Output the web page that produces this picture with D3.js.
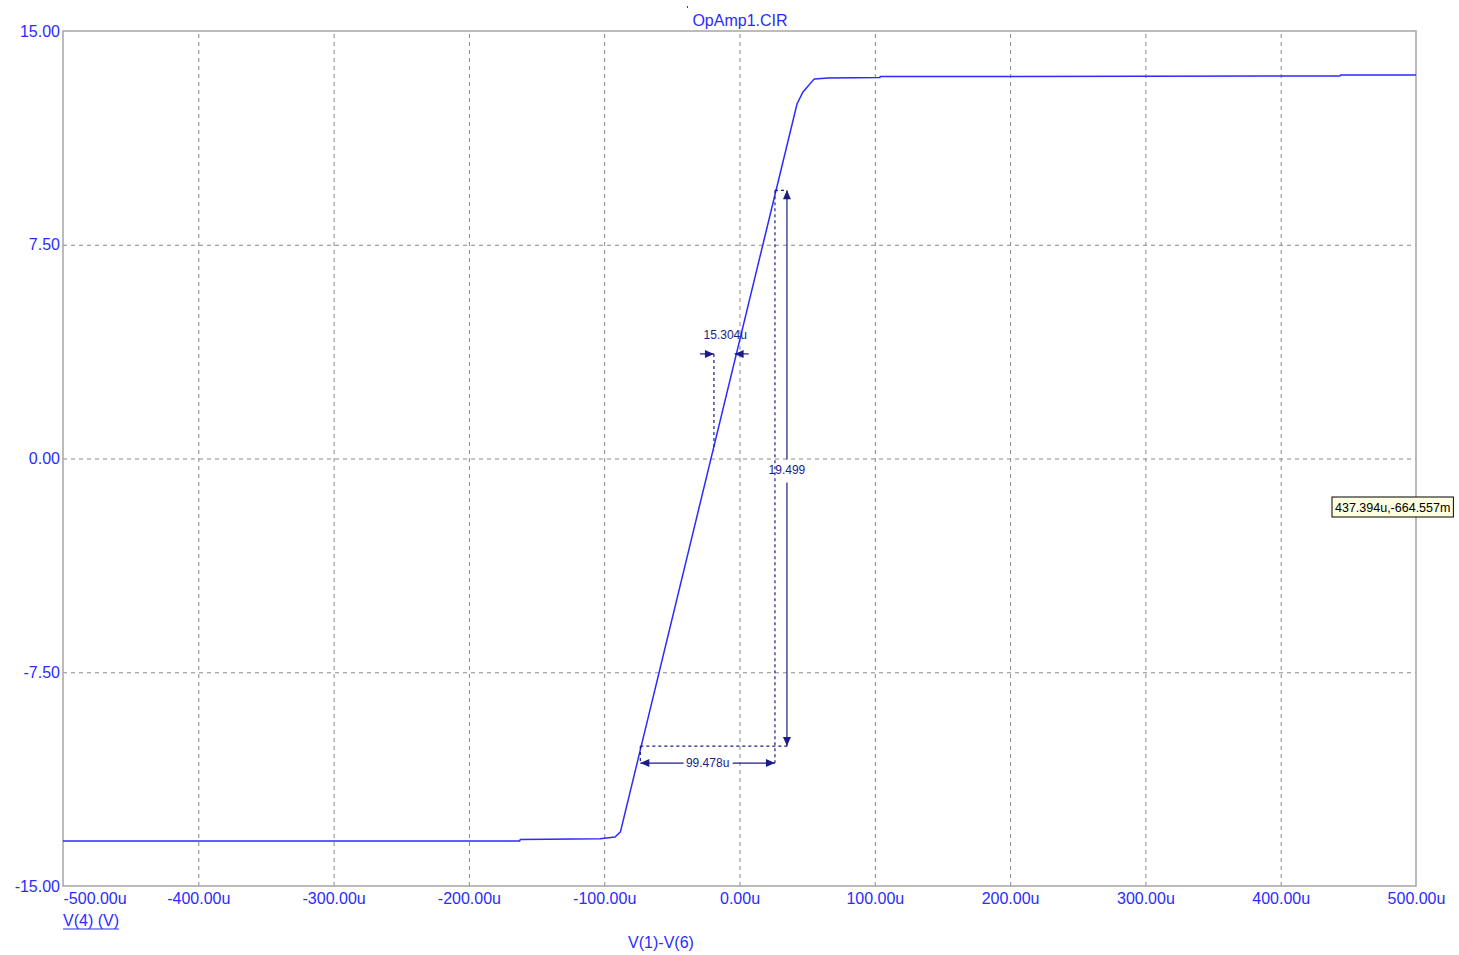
<!DOCTYPE html>
<html>
<head>
<meta charset="utf-8">
<script src="https://cdn.jsdelivr.net/npm/d3@7"></script>
<style>
  body { margin:0; background:#ffffff; }
  svg text { font-family: "Liberation Sans", Arial, sans-serif; }
</style>
</head>
<body>
<svg></svg>
<script>
// sweep data, x in micro volts, y in volts
var sweepX = [-500, -162.5, -162, -103, -92, -88, 42.5, 46.9, 55.3, 65.7, 103.8, 104, 443.8, 444.5, 500];
var voutY  = [-13.42, -13.42, -13.37, -13.34, -13.28, -13.1, 12.44, 12.86, 13.32, 13.35, 13.37, 13.40, 13.42, 13.46, 13.46];

var xTicks = [-500, -400, -300, -200, -100, 0, 100, 200, 300, 400, 500];
var xTickLabels = ["-500.00u", "-400.00u", "-300.00u", "-200.00u", "-100.00u", "0.00u", "100.00u", "200.00u", "300.00u", "400.00u", "500.00u"];
var yTicks = [-15, -7.5, 0, 7.5, 15];
var yTickLabels = ["-15.00", "-7.50", "0.00", "7.50", "15.00"];

// cursor measurements (data coords)
var slopeLow = [-73.3, -10.09];
var slopeHigh = [26.2, 9.41];
var zeroCross = [-18.9, 3.67];
var curveAt = [-3.6, 3.67];
var dxLabel = "99.478u";
var dyLabel = "19.499";
var zxLabel = "15.304u";
var tipLabel = "437.394u,-664.557m";

var drawChart = function()
{
  var screen = { width: 1459, height: 955 };
  var svg = d3.select('svg')
              .attr('width', screen.width)
              .attr('height', screen.height);
  var margins = { top: 31, bottom: 69, left: 63, right: 43 };
  var width = screen.width - margins.left - margins.right;
  var height = screen.height - margins.top - margins.bottom;

  var xscale = d3.scaleLinear().domain([-500, 500]).range([0, width]);
  var yscale = d3.scaleLinear().domain([-15, 15]).range([height, 0]);

  var blue = "#2b2bff";
  var navy = "#1c1c86";
  var font = '"Liberation Sans", Arial, sans-serif';

  var plot = svg.append('g')
                .attr("transform", "translate(" + margins.left + "," + margins.top + ")");

  // grid
  var xGrid = d3.axisBottom(xscale).tickValues(xTicks.slice(1, -1)).tickSize(-height).tickFormat("");
  plot.append('g').attr("transform", "translate(0," + height + ")").call(xGrid)
      .call(function(g) { g.select('.domain').remove(); })
      .selectAll('line').attr('stroke', '#8a8a8a').attr('stroke-dasharray', '4,4');
  var yGrid = d3.axisLeft(yscale).tickValues(yTicks.slice(1, -1)).tickSize(-width).tickFormat("");
  plot.append('g').call(yGrid)
      .call(function(g) { g.select('.domain').remove(); })
      .selectAll('line').attr('stroke', '#8a8a8a').attr('stroke-dasharray', '4,4');

  // border
  plot.append('rect')
      .attr('x', 0).attr('y', 0).attr('width', width).attr('height', height)
      .attr('fill', 'none').attr('stroke', '#a5a5a5').attr('stroke-width', 1.5);

  // y tick labels
  var yAxis = d3.axisLeft(yscale).tickValues(yTicks).tickSize(0).tickPadding(3)
                .tickFormat(function(d, i) { return yTickLabels[i]; });
  var ya = plot.append('g').call(yAxis);
  ya.select('.domain').remove();
  ya.selectAll('text').attr('fill', blue).style('font-size', '16px').style('font-family', font);

  // x tick labels
  var xAxis = d3.axisBottom(xscale).tickValues(xTicks).tickSize(0).tickPadding(7)
                .tickFormat(function(d, i) { return xTickLabels[i]; });
  var xa = plot.append('g').attr("transform", "translate(0," + height + ")").call(xAxis);
  xa.select('.domain').remove();
  xa.selectAll('text').attr('fill', blue).style('font-size', '16px').style('font-family', font)
    .attr('text-anchor', function(d, i) { return i == 0 ? 'start' : 'middle'; });

  // curve
  var pts = sweepX.map(function(d, i) { return [d, voutY[i]]; });
  var line = d3.line().x(function(d) { return xscale(d[0]); }).y(function(d) { return yscale(d[1]); });
  plot.append('path').datum(pts).attr('d', line)
      .attr('fill', 'none').attr('stroke', blue).attr('stroke-width', 1.5);

  // measurement marks
  var ann = plot.append('g').attr('stroke', navy).attr('fill', 'none').attr('stroke-width', 1.2);
  var x1 = xscale(slopeLow[0]), y1 = yscale(slopeLow[1]);
  var x2 = xscale(slopeHigh[0]), y2 = yscale(slopeHigh[1]);
  var vx = x2 + 12;
  var hy = y1 + 17;
  var dash = '3,3';
  // dotted extension lines
  ann.append('line').attr('x1', x1).attr('y1', y1).attr('x2', vx + 2).attr('y2', y1).attr('stroke-dasharray', dash);
  ann.append('line').attr('x1', x2).attr('y1', y2).attr('x2', vx).attr('y2', y2).attr('stroke-dasharray', dash);
  ann.append('line').attr('x1', x2).attr('y1', y2).attr('x2', x2).attr('y2', hy).attr('stroke-dasharray', dash);
  ann.append('line').attr('x1', x1).attr('y1', y1).attr('x2', x1).attr('y2', hy).attr('stroke-dasharray', dash);

  var arrow = function(xa, ya, dir)
  {
    var s = 6, w = 4;
    var p;
    if (dir == 'up') p = [[xa, ya], [xa - w, ya + s + 3], [xa + w, ya + s + 3]];
    if (dir == 'down') p = [[xa, ya], [xa - w, ya - s - 3], [xa + w, ya - s - 3]];
    if (dir == 'left') p = [[xa, ya], [xa + s + 3, ya - w], [xa + s + 3, ya + w]];
    if (dir == 'right') p = [[xa, ya], [xa - s - 3, ya - w], [xa - s - 3, ya + w]];
    plot.append('path').attr('d', 'M' + p.join('L') + 'Z').attr('fill', navy);
  };

  // vertical dimension
  var ymid = yscale(0) + 11;
  ann.append('line').attr('x1', vx).attr('y1', y2).attr('x2', vx).attr('y2', ymid - 10);
  ann.append('line').attr('x1', vx).attr('y1', ymid + 13).attr('x2', vx).attr('y2', y1);
  arrow(vx, y2, 'up');
  arrow(vx, y1, 'down');
  plot.append('text').attr('x', vx).attr('y', ymid + 4).attr('text-anchor', 'middle')
      .attr('fill', navy).style('font-size', '12px').text(dyLabel);

  // horizontal dimension
  var xmid = (x1 + x2) / 2;
  ann.append('line').attr('x1', x1).attr('y1', hy).attr('x2', xmid - 24).attr('y2', hy);
  ann.append('line').attr('x1', xmid + 25).attr('y1', hy).attr('x2', x2).attr('y2', hy);
  arrow(x1, hy, 'left');
  arrow(x2, hy, 'right');
  plot.append('text').attr('x', xmid).attr('y', hy + 4).attr('text-anchor', 'middle')
      .attr('fill', navy).style('font-size', '12px').text(dxLabel);

  // zero crossing width
  var zx = xscale(zeroCross[0]), zy = yscale(zeroCross[1]);
  var cx = xscale(curveAt[0]);
  ann.append('line').attr('x1', zx).attr('y1', zy).attr('x2', zx).attr('y2', yscale(0) - 8).attr('stroke-dasharray', dash);
  ann.append('line').attr('x1', zx - 14).attr('y1', zy).attr('x2', zx).attr('y2', zy);
  ann.append('line').attr('x1', cx).attr('y1', zy).attr('x2', cx + 14).attr('y2', zy);
  arrow(zx, zy, 'right');
  arrow(cx, zy, 'left');
  plot.append('text').attr('x', (zx + cx) / 2 + 1).attr('y', zy - 15).attr('text-anchor', 'middle')
      .attr('fill', navy).style('font-size', '12px').text(zxLabel);

  // title
  svg.append('text').attr('x', 740).attr('y', 26).attr('text-anchor', 'middle')
     .attr('fill', blue).style('font-size', '16px').text("OpAmp1.CIR");
  svg.append('rect').attr('x', 687).attr('y', 6).attr('width', 1).attr('height', 2).attr('fill', blue);

  // axis titles
  var yt = svg.append('text').attr('x', margins.left).attr('y', 926)
     .attr('fill', blue).style('font-size', '16px').text("V(4) (V)");
  var bb = yt.node().getBBox();
  svg.append('line').attr('x1', bb.x).attr('x2', bb.x + bb.width).attr('y1', 929).attr('y2', 929)
     .attr('stroke', blue).attr('stroke-width', 1);
  svg.append('text').attr('x', 661).attr('y', 948).attr('text-anchor', 'middle')
     .attr('fill', blue).style('font-size', '16px').text("V(1)-V(6)");

  // cursor tip
  var tip = svg.append('g').attr('transform', 'translate(1332,497)');
  var tipRect = tip.append('rect').attr('height', 20).attr('fill', '#ffffe1').attr('stroke', '#000').attr('stroke-width', 1);
  var tipText = tip.append('text').attr('x', 3).attr('y', 15).attr('fill', '#000').style('font-size', '12.5px').text(tipLabel);
  tipRect.attr('width', tipText.node().getBBox().width + 6);
};

drawChart();
</script>
</body>
</html>
